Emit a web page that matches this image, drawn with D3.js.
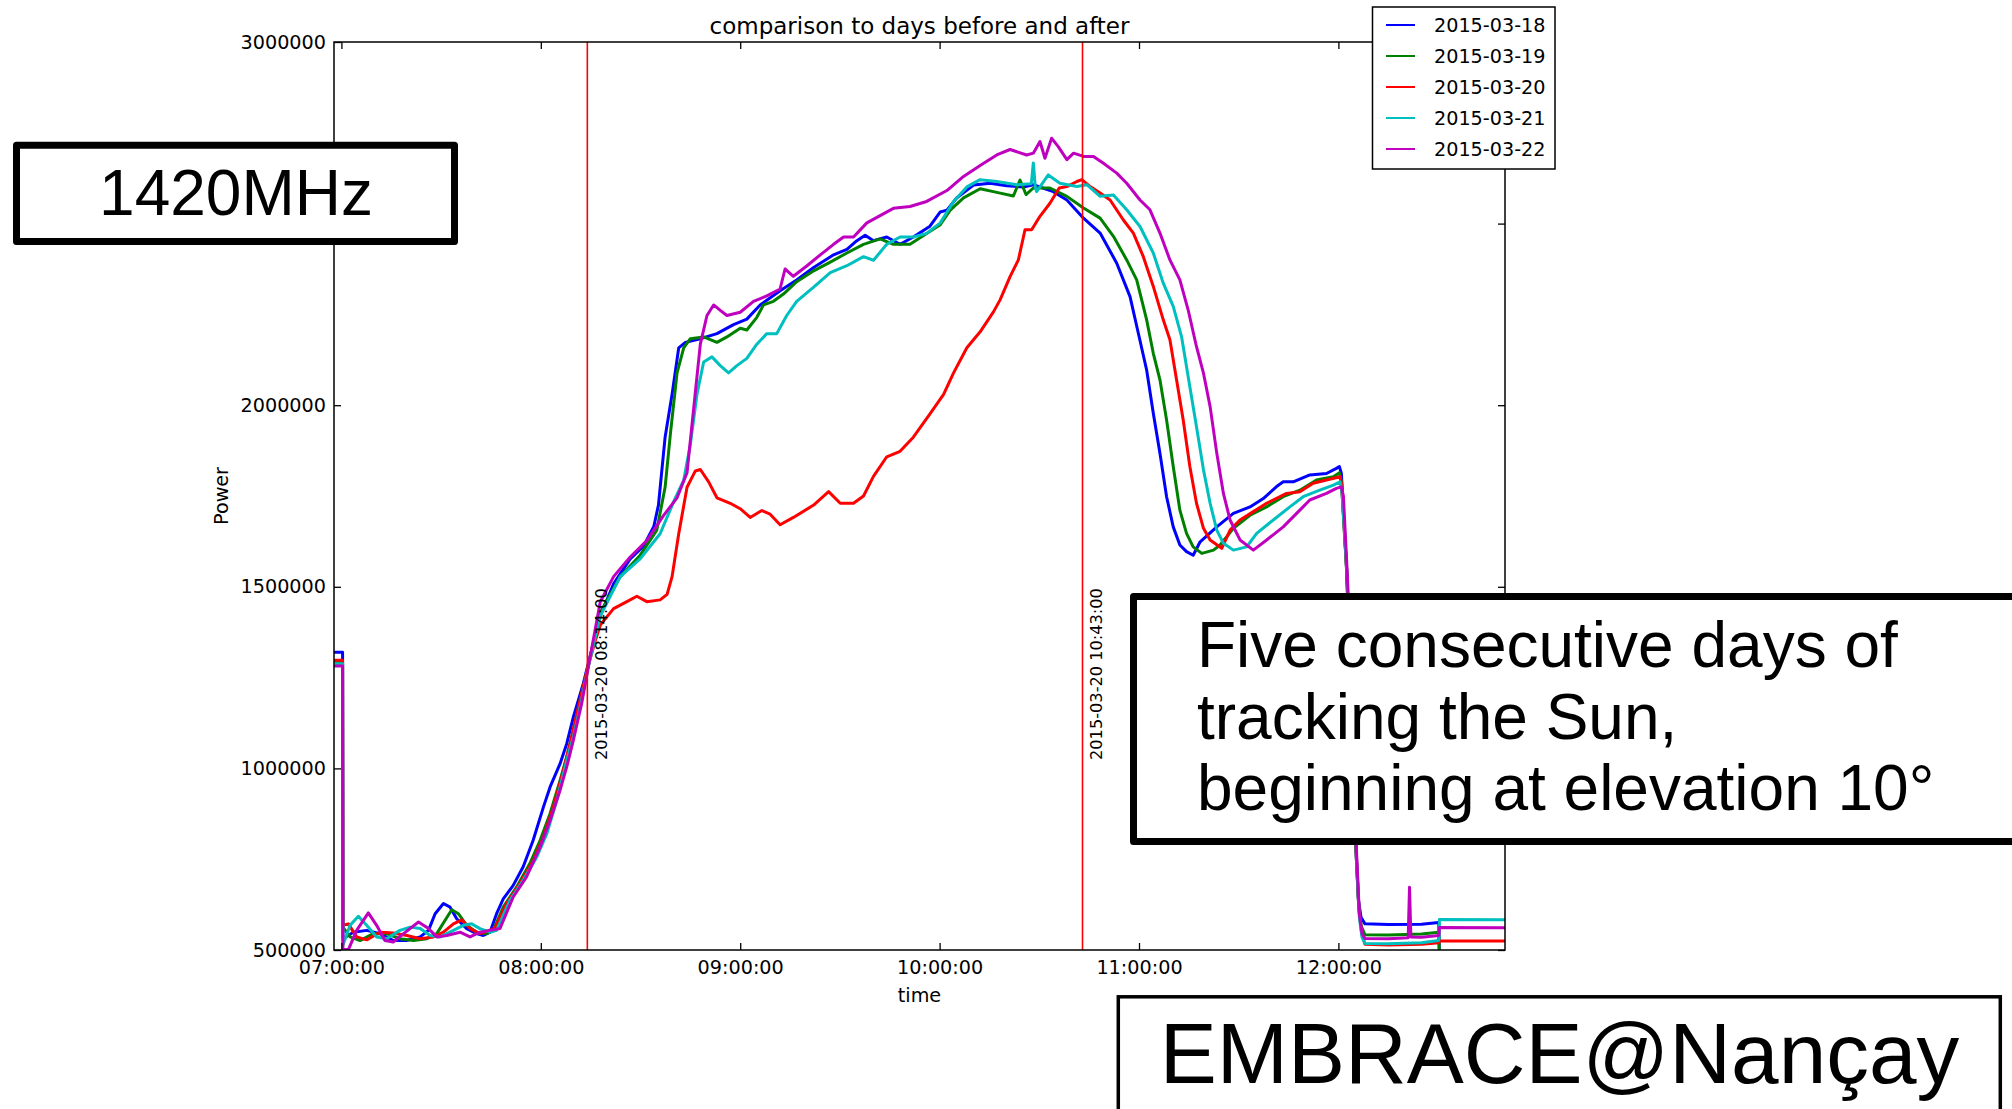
<!DOCTYPE html>
<html>
<head>
<meta charset="utf-8">
<script src="https://cdn.jsdelivr.net/npm/d3@7"></script>
<style>
  body { margin: 0; background: #fff; }
  svg { display: block; }
</style>
</head>
<body>
<svg id="chart" width="2012" height="1109"></svg>
<script>
// Five days of solar tracking at 1420 MHz, power versus time of day.
// Each series: [minutes after 07:00, power].
const dayLabels = ["2015-03-18", "2015-03-19", "2015-03-20", "2015-03-21", "2015-03-22"];
const dayColors = ["#0000ff", "#008000", "#ff0000", "#00bfbf", "#bf00bf"];

const power18 = [
  [-2.23,1320000],[0.35,1320000],[0.45,531000],[3.6,549000],[7.6,554000],[11.6,545000],[15.6,526000],
  [19.6,526000],[23.7,536000],[26.2,554000],[28.2,600000],[30.7,628000],[32.7,618000],[34.7,586000],
  [37.7,559000],[40.7,545000],[42.7,540000],[44.7,549000],[46.7,600000],[48.7,641000],[51.7,678000],
  [54.7,729000],[57.7,802000],[60.8,894000],[62.8,949000],[65.8,1013000],[67.8,1068000],[69.8,1142000],
  [72.8,1234000],[74.3,1289000],[77.9,1420000],[81.9,1508000],[86.9,1577000],[90.9,1612000],
  [94.0,1666000],[95.4,1725000],[97.4,1912000],[99.5,2030000],[101.5,2158000],[103.5,2173000],
  [108.0,2183000],[113.0,2197000],[118.0,2222000],[122.0,2237000],[126.0,2276000],[132.0,2315000],
  [137.0,2345000],[142.1,2379000],[148.1,2414000],[152.1,2429000],[155.1,2453000],[157.6,2468000],
  [160.1,2453000],[164.1,2463000],[168.1,2443000],[172.1,2463000],[177.1,2493000],[180.2,2532000],
  [182.2,2537000],[185.2,2571000],[190.2,2606000],[195.2,2611000],[200.2,2604000],[205.2,2601000],
  [208.2,2607000],[214.2,2588000],[218.3,2565000],[223.3,2515000],[228.3,2474000],[233.3,2391000],
  [237.3,2299000],[239.8,2198000],[242.3,2097000],[244.3,1978000],[246.3,1868000],[248.3,1748000],
  [250.3,1665000],[252.3,1615000],[254.3,1597000],[256.3,1587000],[258.4,1624000],[263.4,1665000],
  [268.4,1702000],[273.4,1720000],[277.4,1743000],[281.4,1776000],[283.4,1789000],[286.4,1789000],
  [291.4,1808000],[296.4,1812000],[299.4,1826000],[300.3,1831000],[300.9,1812000],[302.4,1560000],
  [304.0,1150000],[305.2,790000],[306.0,640000],[306.8,590000],[308.0,572000],[315.0,570000],
  [325.0,571000],[330.2,576000],[330.4,470000],[350.2,470000]
];

const power19 = [
  [-2.23,1292000],[0.35,1292000],[0.45,563000],[2.6,536000],[5.6,526000],[9.6,545000],[13.6,545000],
  [17.6,531000],[21.7,526000],[25.7,531000],[28.7,545000],[31.2,582000],[33.2,611000],[35.2,600000],
  [37.7,568000],[40.7,549000],[43.7,545000],[45.7,554000],[48.7,618000],[52.7,673000],[56.7,738000],
  [59.8,802000],[62.8,876000],[65.8,967000],[67.8,1032000],[69.8,1105000],[72.3,1206000],
  [74.3,1284000],[77.9,1430000],[83.9,1528000],[89.9,1587000],[94.9,1656000],[97.4,1774000],
  [99.0,1922000],[101.0,2089000],[103.0,2158000],[105.0,2183000],[109.0,2188000],[113.0,2173000],
  [116.0,2188000],[120.0,2212000],[122.0,2207000],[125.0,2242000],[127.0,2276000],[130.0,2286000],
  [133.0,2306000],[137.0,2340000],[142.1,2370000],[147.1,2394000],[152.1,2419000],[157.1,2443000],
  [162.1,2458000],[166.1,2443000],[171.1,2443000],[176.1,2473000],[180.2,2497000],[183.2,2537000],
  [187.2,2571000],[192.2,2596000],[197.2,2586000],[202.2,2576000],[204.2,2620000],[206.0,2580000],
  [208.2,2598000],[213.2,2598000],[218.3,2575000],[223.3,2543000],[228.3,2515000],[232.3,2465000],
  [236.3,2400000],[239.3,2345000],[241.3,2272000],[242.3,2235000],[244.3,2143000],[246.3,2070000],
  [248.3,1959000],[250.3,1831000],[252.3,1711000],[254.3,1647000],[256.3,1610000],[258.9,1592000],
  [262.4,1601000],[264.4,1615000],[268.4,1661000],[273.4,1697000],[278.4,1720000],[283.4,1748000],
  [288.4,1766000],[293.4,1794000],[298.5,1803000],[300.3,1814000],[300.9,1790000],[302.5,1540000],
  [304.1,1130000],[305.3,770000],[306.1,620000],[306.9,565000],[308.0,542000],[315.0,541000],
  [325.0,544000],[330.2,549000],[330.4,490000],[350.2,490000]
];

const power20 = [
  [-2.23,1298000],[0.35,1298000],[0.45,568000],[2.1,572000],[4.6,536000],[7.6,528000],[11.6,549000],
  [15.6,547000],[19.7,540000],[23.7,531000],[27.7,536000],[30.7,549000],[33.7,572000],[36.2,583000],
  [38.7,559000],[41.7,545000],[44.7,554000],[46.2,560000],[49.7,628000],[53.7,683000],[57.8,747000],
  [60.8,811000],[63.8,894000],[66.8,995000],[68.8,1068000],[71.3,1169000],[74.3,1284000],
  [76.5,1355000],[77.9,1395000],[81.9,1440000],[85.9,1459000],[88.9,1474000],[91.9,1459000],
  [95.9,1464000],[98.0,1479000],[99.5,1528000],[101.5,1646000],[104.0,1774000],[106.5,1819000],
  [108.0,1823000],[110.5,1789000],[113.0,1745000],[117.0,1730000],[120.0,1715000],[123.0,1691000],
  [126.5,1710000],[129.0,1700000],[132.0,1671000],[136.0,1691000],[142.1,1725000],[146.6,1762000],
  [150.1,1730000],[154.1,1730000],[157.1,1750000],[160.1,1804000],[164.1,1858000],[168.1,1873000],
  [172.1,1912000],[177.1,1976000],[181.2,2030000],[184.2,2089000],[188.2,2158000],[192.2,2202000],
  [196.2,2257000],[198.2,2290000],[201.2,2354000],[203.7,2400000],[205.7,2483000],[207.7,2483000],
  [210.2,2520000],[213.2,2556000],[216.0,2598000],[218.3,2602000],[221.3,2616000],[222.8,2621000],
  [225.3,2602000],[228.3,2584000],[231.3,2565000],[235.3,2510000],[238.3,2474000],[241.3,2409000],
  [244.3,2327000],[247.3,2235000],[249.3,2180000],[251.3,2070000],[253.3,1959000],[255.3,1831000],
  [257.3,1730000],[259.4,1661000],[261.4,1629000],[264.9,1606000],[267.4,1656000],[270.4,1684000],
  [274.4,1707000],[278.4,1730000],[284.4,1757000],[288.4,1762000],[292.4,1785000],[296.4,1794000],
  [300.5,1803000],[301.0,1780000],[302.6,1530000],[304.2,1120000],[305.4,760000],[306.2,610000],
  [307.0,545000],[308.0,516000],[315.0,514000],[325.0,516000],[330.2,520000],[330.4,525000],
  [350.2,525000]
];

const power21 = [
  [-2.23,1288000],[0.35,1288000],[0.45,513000],[2.6,568000],[5.1,593000],[7.6,568000],[10.6,536000],
  [13.6,531000],[17.6,554000],[20.7,563000],[23.7,559000],[26.7,540000],[29.7,536000],[33.7,554000],
  [36.7,568000],[39.2,572000],[41.7,559000],[44.7,549000],[46.7,554000],[50.7,637000],[54.7,692000],
  [58.8,756000],[61.8,820000],[64.8,912000],[67.8,1022000],[69.8,1087000],[72.3,1188000],
  [74.3,1280000],[77.9,1420000],[83.9,1528000],[89.9,1577000],[95.9,1646000],[100.0,1735000],
  [103.0,1794000],[105.0,1892000],[107.0,2030000],[109.0,2119000],[111.5,2133000],[114.0,2109000],
  [116.5,2089000],[119.0,2109000],[122.0,2129000],[125.0,2168000],[128.0,2197000],[131.0,2197000],
  [134.0,2247000],[137.0,2286000],[142.1,2325000],[147.1,2365000],[152.1,2384000],[157.1,2409000],
  [160.1,2399000],[164.1,2443000],[168.1,2463000],[172.1,2463000],[176.1,2473000],[180.2,2502000],
  [184.2,2561000],[188.2,2601000],[192.2,2621000],[197.2,2616000],[203.2,2607000],[207.6,2610000],
  [208.2,2667000],[208.8,2600000],[209.2,2588000],[212.7,2634000],[216.2,2611000],[221.3,2602000],
  [224.3,2607000],[228.3,2575000],[232.3,2579000],[236.3,2538000],[240.3,2492000],[244.3,2419000],
  [247.3,2336000],[250.3,2272000],[252.8,2189000],[255.3,2051000],[257.3,1941000],[259.4,1822000],
  [261.4,1730000],[263.4,1656000],[265.4,1620000],[268.4,1601000],[272.4,1610000],[275.4,1647000],
  [280.4,1684000],[285.4,1720000],[289.4,1748000],[294.4,1766000],[298.5,1780000],[300.5,1789000],
  [301.1,1760000],[302.7,1520000],[304.3,1110000],[305.5,740000],[306.3,590000],[307.1,535000],
  [308.0,518000],[315.0,517000],[325.0,520000],[330.2,526000],[330.4,584000],[350.2,583000]
];

const power22 = [
  [-2.23,1282000],[0.35,1282000],[0.45,505000],[2.1,501000],[4.6,554000],[8.1,602000],[10.6,568000],
  [13.1,526000],[15.6,522000],[18.7,545000],[23.2,577000],[26.2,559000],[28.7,536000],[31.7,540000],
  [35.7,549000],[38.7,536000],[41.7,549000],[44.7,554000],[47.7,559000],[51.7,646000],[55.7,701000],
  [59.8,784000],[62.8,857000],[65.8,940000],[67.8,1004000],[69.8,1078000],[72.3,1179000],
  [74.3,1280000],[77.9,1459000],[81.9,1528000],[86.9,1582000],[91.9,1627000],[96.9,1696000],
  [101.0,1745000],[104.0,1814000],[106.0,1991000],[108.0,2168000],[110.0,2247000],[112.0,2276000],
  [114.0,2261000],[116.0,2247000],[120.0,2256000],[124.0,2286000],[128.0,2301000],[132.0,2320000],
  [133.5,2375000],[136.0,2355000],[140.1,2384000],[144.1,2414000],[148.1,2443000],[151.1,2463000],
  [154.1,2463000],[158.1,2502000],[162.1,2522000],[166.1,2542000],[171.1,2547000],[176.1,2561000],
  [182.2,2591000],[187.2,2630000],[192.2,2660000],[197.2,2689000],[201.2,2704000],[206.2,2689000],
  [208.2,2694000],[210.2,2726000],[211.7,2680000],[213.7,2735000],[215.7,2712000],[218.3,2676000],
  [220.3,2694000],[223.3,2685000],[226.3,2685000],[229.3,2666000],[233.3,2639000],[236.3,2611000],
  [240.3,2565000],[243.3,2538000],[246.3,2474000],[249.3,2400000],[252.3,2345000],[254.8,2262000],
  [257.3,2161000],[259.4,2088000],[261.4,1996000],[263.4,1868000],[265.4,1757000],[267.4,1684000],
  [270.4,1629000],[274.4,1601000],[278.4,1629000],[283.4,1665000],[288.4,1711000],[291.4,1739000],
  [296.4,1757000],[299.4,1771000],[300.9,1775000],[301.5,1750000],[302.7,1530000],[304.3,1120000],
  [305.5,760000],[306.3,600000],[307.1,545000],[308.0,532000],[315.0,531000],[321.0,534000],
  [321.4,673000],[321.8,536000],[325.0,535000],[330.2,540000],[330.4,562000],[350.2,561000]
];

const allSeries = [power18, power19, power20, power21, power22];

// axis ticks and limits
const yTickValues = [500000, 1000000, 1500000, 2000000, 2500000, 3000000];
const xTickHours = [7, 8, 9, 10, 11, 12];
const xLimitMinutes = [-2.23, 350.13];
const yLimits = [500000, 3000000];

// event markers on 2015-03-20
const markerLabels = ["2015-03-20 08:14:00", "2015-03-20 10:43:00"];
const markerMinutes = [74, 223];

// overlay captions
const captionBand = "1420MHz";
const captionText = ["Five consecutive days of", "tracking the Sun,", "beginning at elevation 10°"];
const captionSite = "EMBRACE@Nançay";

const base = new Date(2015, 2, 20, 7, 0, 0);
const toTime = m => new Date(base.getTime() + m * 60000);

const plot = { left: 334, right: 1505, top: 42, bottom: 950 };
const tickFont = "DejaVu Sans, sans-serif";

const svg = d3.select("#chart");

const x = d3.scaleTime()
  .domain(xLimitMinutes.map(toTime))
  .range([plot.left, plot.right]);
const y = d3.scaleLinear()
  .domain(yLimits)
  .range([plot.bottom, plot.top]);

svg.append("rect").attr("width", 2012).attr("height", 1109).attr("fill", "#fff");

svg.append("defs").append("clipPath").attr("id", "plotclip")
  .append("rect")
  .attr("x", plot.left).attr("y", plot.top)
  .attr("width", plot.right - plot.left).attr("height", plot.bottom - plot.top);

// data lines
const line = d3.line()
  .x(d => x(toTime(d[0])))
  .y(d => y(d[1]));

const lines = svg.append("g").attr("clip-path", "url(#plotclip)");
allSeries.forEach((s, i) => {
  lines.append("path")
    .datum(s)
    .attr("d", line)
    .attr("fill", "none")
    .attr("stroke", dayColors[i])
    .attr("stroke-width", 3)
    .attr("stroke-linejoin", "round")
    .attr("stroke-linecap", "round");
});

// marker lines with rotated labels
markerMinutes.forEach((m, i) => {
  const xv = x(toTime(m));
  svg.append("line")
    .attr("x1", xv).attr("x2", xv)
    .attr("y1", plot.top).attr("y2", plot.bottom)
    .attr("stroke", "#ff0000").attr("stroke-width", 1.6);
  svg.append("text")
    .attr("transform", `translate(${xv + 19.5},760) rotate(-90)`)
    .attr("font-family", tickFont)
    .attr("font-size", 16.2)
    .attr("fill", "#000")
    .text(markerLabels[i]);
});

// axes: labelled bottom/left, tick-only top/right, all ticks inward
const hourTicks = xTickHours.map(h => toTime((h - 7) * 60));
const fmtTime = d3.timeFormat("%H:%M:%S");

const xBottom = svg.append("g")
  .attr("transform", `translate(0,${plot.bottom})`)
  .call(d3.axisBottom(x).tickValues(hourTicks).tickFormat(fmtTime)
    .tickSizeInner(-7).tickSizeOuter(0).tickPadding(10.5));
const xTop = svg.append("g")
  .attr("transform", `translate(0,${plot.top})`)
  .call(d3.axisTop(x).tickValues(hourTicks).tickFormat("")
    .tickSizeInner(-7).tickSizeOuter(0));
const yLeft = svg.append("g")
  .attr("transform", `translate(${plot.left},0)`)
  .call(d3.axisLeft(y).tickValues(yTickValues).tickFormat(d3.format("d"))
    .tickSizeInner(-7).tickSizeOuter(0).tickPadding(8));
const yRight = svg.append("g")
  .attr("transform", `translate(${plot.right},0)`)
  .call(d3.axisRight(y).tickValues(yTickValues).tickFormat("")
    .tickSizeInner(-7).tickSizeOuter(0));

[xBottom, xTop, yLeft, yRight].forEach(g => {
  g.select(".domain").remove();
  g.selectAll(".tick line").attr("stroke", "#000").attr("stroke-width", 1.3);
  g.selectAll(".tick text")
    .attr("font-family", tickFont)
    .attr("font-size", 19.2)
    .attr("fill", "#000");
});

// frame
svg.append("rect")
  .attr("x", plot.left).attr("y", plot.top)
  .attr("width", plot.right - plot.left).attr("height", plot.bottom - plot.top)
  .attr("fill", "none").attr("stroke", "#000").attr("stroke-width", 1.5);

// title and axis labels
svg.append("text")
  .attr("x", (plot.left + plot.right) / 2).attr("y", 33.5)
  .attr("text-anchor", "middle")
  .attr("font-family", tickFont).attr("font-size", 23)
  .text("comparison to days before and after");

svg.append("text")
  .attr("x", (plot.left + plot.right) / 2).attr("y", 1002)
  .attr("text-anchor", "middle")
  .attr("font-family", tickFont).attr("font-size", 19.2)
  .text("time");

svg.append("text")
  .attr("transform", `translate(228,${(plot.top + plot.bottom) / 2}) rotate(-90)`)
  .attr("text-anchor", "middle")
  .attr("font-family", tickFont).attr("font-size", 19.2)
  .text("Power");

// legend
const legend = svg.append("g");
legend.append("rect")
  .attr("x", 1372.5).attr("y", 7).attr("width", 182.5).attr("height", 162)
  .attr("fill", "#fff").attr("stroke", "#000").attr("stroke-width", 1.5);
dayLabels.forEach((label, i) => {
  const ly = 25 + i * 31;
  legend.append("line")
    .attr("x1", 1386).attr("x2", 1415).attr("y1", ly).attr("y2", ly)
    .attr("stroke", dayColors[i]).attr("stroke-width", 2);
  legend.append("text")
    .attr("x", 1434).attr("y", ly + 7.2)
    .attr("font-family", tickFont).attr("font-size", 19.2)
    .text(label);
});

// caption boxes
const capFont = "Liberation Sans, Arial, sans-serif";

svg.append("rect")
  .attr("x", 16.5).attr("y", 145.2).attr("width", 438).attr("height", 96.3)
  .attr("fill", "#fff").attr("stroke", "#000").attr("stroke-width", 7)
  .attr("stroke-linejoin", "round");
svg.append("text")
  .attr("x", 236).attr("y", 214.5).attr("text-anchor", "middle")
  .attr("font-family", capFont).attr("font-size", 64)
  .text(captionBand);

svg.append("rect")
  .attr("x", 1133.5).attr("y", 596.5).attr("width", 900).attr("height", 245)
  .attr("fill", "#fff").attr("stroke", "#000").attr("stroke-width", 7)
  .attr("stroke-linejoin", "round");
captionText.forEach((t, i) => {
  svg.append("text")
    .attr("x", 1197).attr("y", 667 + i * 71.6)
    .attr("font-family", capFont).attr("font-size", 64)
    .text(t);
});

svg.append("rect")
  .attr("x", 1118.3).attr("y", 996.8).attr("width", 882).attr("height", 200)
  .attr("fill", "#fff").attr("stroke", "#000").attr("stroke-width", 3.5);
svg.append("text")
  .attr("x", 1559.5).attr("y", 1083).attr("text-anchor", "middle")
  .attr("font-family", capFont).attr("font-size", 85.5)
  .text(captionSite);
</script>
</body>
</html>
